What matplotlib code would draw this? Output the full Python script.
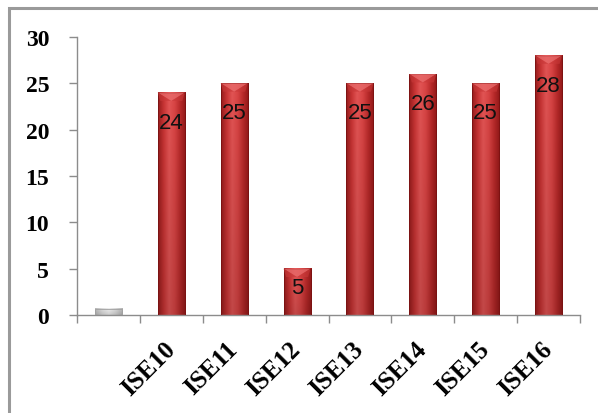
import numpy as np
import matplotlib
matplotlib.use("Agg")
import matplotlib.pyplot as plt
from matplotlib.patches import Rectangle, Polygon
from matplotlib.colors import LinearSegmentedColormap

categories = ["", "ISE10", "ISE11", "ISE12", "ISE13", "ISE14", "ISE15", "ISE16"]
values = [0.7, 24, 25, 5, 25, 26, 25, 28]
labels = ["", "24", "25", "5", "25", "26", "25", "28"]
yticks = [0, 5, 10, 15, 20, 25, 30]

fig = plt.figure(figsize=(5.98, 4.14), dpi=100)
ax = fig.add_axes([77 / 598, 1 - 316 / 414, (580 - 77) / 598, (316 - 38) / 414])

# outer grey frame (left and top visible)
fig.patches.append(Rectangle((9 / 598, -0.1), 1.2, 1 - 9 / 414 + 0.1,
                             transform=fig.transFigure, fill=False,
                             edgecolor="#9a9a9a", linewidth=2.2))

red = LinearSegmentedColormap.from_list(
    "cyl", ["#961c1c", "#c83434", "#e25454", "#d84444", "#b82a2a", "#921818"])
grey = LinearSegmentedColormap.from_list(
    "cylg", ["#b8b8b8", "#dcdcdc", "#eeeeee", "#d8d8d8", "#b5b5b5"])

width = 0.43
xs = np.arange(len(values)) + 0.5
h = np.repeat(np.linspace(0, 1, 64)[None, :], 32, axis=0)
vshade = np.linspace(0.86, 1.0, 32)[:, None, None]
for i, (x, v) in enumerate(zip(xs, values)):
    cmap = grey if i == 0 else red
    img = cmap(h)
    img[..., :3] *= vshade
    x0, x1 = x - width / 2, x + width / 2
    ax.imshow(img, extent=[x0, x1, 0, v], aspect="auto", origin="lower",
              interpolation="bilinear", zorder=2)
    ax.add_patch(Rectangle((x0, 0), width, v, fill=False,
                           edgecolor="#a0a0a0" if i == 0 else "#7a1212",
                           linewidth=0.6, zorder=3))
    if i > 0:
        cap = 0.9
        ax.add_patch(Polygon([(x0, v), (x1, v), (x, v - cap)],
                             closed=True, facecolor="#e86a6a", edgecolor="none",
                             alpha=0.8, zorder=3))
        ax.add_patch(Polygon([(x0, v), (x0 + 0.04, v - cap), (x, v - cap)],
                             closed=True, facecolor="#c83838", edgecolor="none",
                             alpha=0.6, zorder=3))
        ax.add_patch(Polygon([(x1, v), (x1 - 0.04, v - cap), (x, v - cap)],
                             closed=True, facecolor="#c83838", edgecolor="none",
                             alpha=0.6, zorder=3))
    if labels[i]:
        ly = max(v - 3.2, v * 0.6)
        ax.text(x, ly, labels[i], ha="center", va="center", fontsize=16,
                family="Liberation Sans", color="#111111", zorder=4)

ax.set_xlim(0, len(values))
ax.set_ylim(0, 30)
ax.set_yticks(yticks)
ax.set_yticklabels([str(t) for t in yticks], family="Liberation Serif",
                   fontweight="bold", fontsize=17)
ax.set_xticks(np.arange(len(values) + 1))
ax.set_xticklabels([])
ax.set_xticks(xs, minor=True)
ax.set_xticklabels(categories, minor=True, rotation=45, ha="right",
                   va="center", rotation_mode="anchor",
                   family="Liberation Serif", fontweight="bold", fontsize=18)
ax.tick_params(axis="x", which="minor", length=0, pad=22)
ax.tick_params(axis="both", which="major", length=6, color="#8c8c8c",
               direction="out", width=1)
ax.tick_params(axis="y", pad=14)
for s in ["top", "right"]:
    ax.spines[s].set_visible(False)
for s in ["left", "bottom"]:
    ax.spines[s].set_color("#8c8c8c")
    ax.spines[s].set_linewidth(1)

fig.savefig("out.png", dpi=100)
